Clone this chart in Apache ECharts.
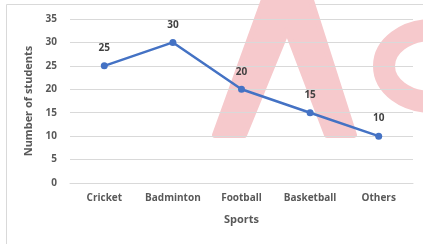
<!DOCTYPE html>
<html>
<head>
<meta charset="utf-8">
<script src="https://cdn.jsdelivr.net/npm/echarts@6/dist/echarts.min.js"></script>
<style>
  html, body { margin: 0; padding: 0; background: #fff; }
  #chart { width: 423px; height: 244px; }
</style>
</head>
<body>
<div id="chart"></div>
<script>
// data
const sports = ['Cricket', 'Badminton', 'Football', 'Basketball', 'Others'];
const students = [25, 30, 20, 15, 10];
const yTicks = [0, 5, 10, 15, 20, 25, 30, 35];

const chart = echarts.init(document.getElementById('chart'));
const font = 'Open Sans, Noto Sans, sans-serif';
const pink = '#f6c9cc';

chart.setOption({
  animation: false,
  graphic: [
    // outer frame
    {
      type: 'rect', z: -10, silent: true,
      shape: { x: 6.5, y: 4.5, width: 430, height: 250 },
      style: { fill: 'none', stroke: '#d9d9d9', lineWidth: 1 }
    },
    // watermark "A" (no crossbar)
    {
      type: 'polygon', z: -5, silent: true,
      shape: { points: [[215, 135], [266, -6], [309, -6], [354, 135], [327, 135], [287, 30], [244, 135]] },
      style: { fill: pink, stroke: pink, lineWidth: 6, lineJoin: 'round' }
    },
    // watermark "c"
    {
      type: 'ellipse', z: -5, silent: true,
      shape: { cx: 432, cy: 66, rx: 48, ry: 36 },
      style: { fill: 'none', stroke: pink, lineWidth: 22 }
    }
  ],
  grid: { left: 70, right: 10, top: 19, bottom: 61 },
  xAxis: {
    type: 'category',
    data: sports,
    name: 'Sports',
    nameLocation: 'middle',
    nameGap: 31,
    nameTextStyle: { color: '#595959', fontSize: 11, fontWeight: 'bold', fontFamily: font },
    axisLine: { lineStyle: { color: '#d9d9d9' } },
    axisTick: { show: false },
    axisLabel: { interval: 0, color: '#595959', fontSize: 10, fontWeight: 'bold', fontFamily: font, margin: 10 }
  },
  yAxis: {
    type: 'value',
    min: yTicks[0],
    max: yTicks[yTicks.length - 1],
    interval: 5,
    name: 'Number of students',
    nameLocation: 'middle',
    nameGap: 34,
    nameTextStyle: { color: '#595959', fontSize: 11, fontWeight: 'bold', fontFamily: font },
    axisLine: { show: false },
    axisTick: { show: false },
    splitLine: { lineStyle: { color: '#d9d9d9' } },
    axisLabel: { color: '#595959', fontSize: 10, fontWeight: 'bold', fontFamily: font, margin: 13 }
  },
  series: [{
    type: 'line',
    data: students,
    symbol: 'circle',
    symbolSize: 7,
    lineStyle: { color: '#4472C4', width: 2.5 },
    itemStyle: { color: '#4472C4' },
    label: {
      show: true, position: 'top', distance: 9,
      color: '#404040', fontSize: 10, fontWeight: 'bold', fontFamily: font
    }
  }]
});
</script>
</body>
</html>
